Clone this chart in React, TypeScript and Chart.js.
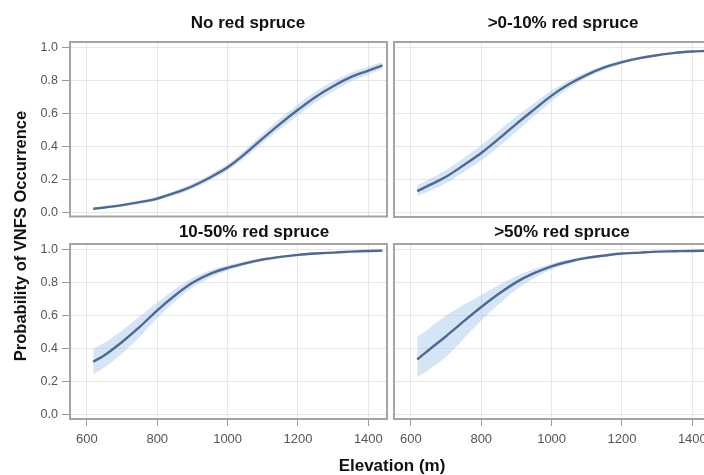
import React, { useEffect, useRef } from "react";
import { Chart, registerables } from "chart.js";

Chart.register(...registerables);

const FONT = "'Liberation Sans', Arial, sans-serif";

const panelTitles = ["No red spruce", ">0-10% red spruce", "10-50% red spruce", ">50% red spruce"];
const xAxisTitle = "Elevation (m)";
const yAxisTitle = "Probability of VNFS Occurrence";

const xTicks = [600, 800, 1000, 1200, 1400];
const yTicks = [0, 0.2, 0.4, 0.6, 0.8, 1.0];

const elevation = [618, 650, 700, 750, 800, 850, 900, 950, 1000, 1050, 1100, 1150, 1200, 1250, 1300, 1350, 1400, 1440];

// No red spruce
const noneFit = [0.02, 0.028, 0.042, 0.06, 0.082, 0.116, 0.157, 0.21, 0.272, 0.355, 0.448, 0.538, 0.622, 0.70, 0.765, 0.82, 0.86, 0.892];
const noneLower = [0.012, 0.020, 0.033, 0.050, 0.070, 0.102, 0.141, 0.192, 0.252, 0.331, 0.420, 0.506, 0.588, 0.667, 0.735, 0.793, 0.836, 0.872];
const noneUpper = [0.028, 0.036, 0.051, 0.070, 0.094, 0.130, 0.173, 0.228, 0.292, 0.379, 0.476, 0.570, 0.656, 0.733, 0.795, 0.847, 0.884, 0.912];

// >0-10% red spruce
const lowFit = [0.13, 0.163, 0.217, 0.287, 0.361, 0.448, 0.538, 0.624, 0.709, 0.779, 0.835, 0.88, 0.912, 0.936, 0.954, 0.968, 0.976, 0.98];
const lowLower = [0.100, 0.128, 0.178, 0.245, 0.315, 0.400, 0.492, 0.585, 0.675, 0.755, 0.817, 0.866, 0.901, 0.928, 0.948, 0.963, 0.972, 0.976];
const lowUpper = [0.165, 0.200, 0.258, 0.330, 0.408, 0.496, 0.584, 0.663, 0.740, 0.802, 0.852, 0.893, 0.922, 0.944, 0.960, 0.973, 0.980, 0.984];

// 10-50% red spruce
const midFit = [0.32, 0.36, 0.44, 0.531, 0.632, 0.722, 0.799, 0.853, 0.889, 0.917, 0.94, 0.956, 0.968, 0.976, 0.982, 0.988, 0.992, 0.994];
const midLower = [0.245, 0.285, 0.370, 0.470, 0.585, 0.685, 0.770, 0.830, 0.872, 0.905, 0.931, 0.949, 0.962, 0.971, 0.978, 0.985, 0.989, 0.991];
const midUpper = [0.400, 0.435, 0.510, 0.595, 0.680, 0.760, 0.828, 0.875, 0.905, 0.929, 0.949, 0.963, 0.974, 0.981, 0.986, 0.991, 0.995, 0.997];

// >50% red spruce
const highFit = [0.334, 0.39, 0.475, 0.565, 0.652, 0.732, 0.803, 0.857, 0.899, 0.928, 0.95, 0.964, 0.976, 0.982, 0.988, 0.99, 0.992, 0.994];
const highLower = [0.225, 0.270, 0.350, 0.460, 0.570, 0.670, 0.758, 0.827, 0.880, 0.915, 0.940, 0.957, 0.970, 0.977, 0.984, 0.987, 0.989, 0.991];
const highUpper = [0.470, 0.520, 0.600, 0.665, 0.725, 0.785, 0.840, 0.883, 0.915, 0.940, 0.959, 0.971, 0.981, 0.986, 0.991, 0.993, 0.995, 0.997];

const series = [
  { fit: noneFit, lower: noneLower, upper: noneUpper },
  { fit: lowFit, lower: lowLower, upper: lowUpper },
  { fit: midFit, lower: midLower, upper: midUpper },
  { fit: highFit, lower: highLower, upper: highUpper },
];

const LINE = "#4d6893";
const BAND = "rgba(165,198,232,0.45)";
const GRID = "#e6e6e6";
const TICKC = "#555555";

// canvas placement for each panel
const layouts = [
  { left: 0, top: 28, width: 400, height: 200, yWidth: 70, xHeight: 11, padTop: 14, padRight: 13, showY: true, showX: false },
  { left: 380, top: 28, width: 340, height: 200, yWidth: 14, xHeight: 11, padTop: 14, padRight: 9, showY: false, showX: false },
  { left: 0, top: 230, width: 400, height: 229, yWidth: 70, xHeight: 40, padTop: 14, padRight: 13, showY: true, showX: true },
  { left: 380, top: 230, width: 340, height: 229, yWidth: 14, xHeight: 40, padTop: 14, padRight: 9, showY: false, showX: true },
];

const titlePos = [
  { cx: 248, cy: 22.5 },
  { cx: 563, cy: 22.5 },
  { cx: 254, cy: 232 },
  { cx: 562, cy: 232 },
];

const boxPlugin = {
  id: "panelBox",
  afterDraw(chart: any) {
    const { ctx, chartArea } = chart;
    ctx.save();
    ctx.strokeStyle = "#a4a4a4";
    ctx.lineWidth = 2;
    ctx.strokeRect(chartArea.left, chartArea.top, chartArea.right - chartArea.left, chartArea.bottom - chartArea.top);
    ctx.restore();
  },
};

function pts(ys: number[]) {
  return elevation.map((x, i) => ({ x, y: ys[i] }));
}

function makeConfig(idx: number): any {
  const s = series[idx];
  const L = layouts[idx];
  return {
    type: "line",
    data: {
      datasets: [
        { data: pts(s.upper), order: 2, borderWidth: 0, pointRadius: 0, fill: "+1", backgroundColor: BAND, borderColor: "rgba(0,0,0,0)", cubicInterpolationMode: "monotone" },
        { data: pts(s.lower), order: 2, borderWidth: 0, pointRadius: 0, fill: false, borderColor: "rgba(0,0,0,0)", cubicInterpolationMode: "monotone" },
        { data: pts(s.fit), order: 0, borderWidth: 2.4, pointRadius: 0, fill: false, borderColor: LINE, cubicInterpolationMode: "monotone" },
      ],
    },
    options: {
      responsive: false,
      animation: false,
      events: [],
      layout: { padding: { top: L.padTop, right: L.padRight, left: 0, bottom: 0 } },
      plugins: { legend: { display: false }, tooltip: { enabled: false }, title: { display: false } },
      scales: {
        x: {
          type: "linear",
          min: 552,
          max: 1453,
          afterBuildTicks: (sc: any) => { sc.ticks = xTicks.map((v) => ({ value: v })); },
          afterFit: (sc: any) => { sc.height = L.xHeight; },
          ticks: { display: L.showX, autoSkip: false, maxRotation: 0, padding: 6, color: TICKC, font: { family: FONT, size: 13 }, callback: (v: any) => String(v) },
          grid: { color: GRID, lineWidth: 1, drawTicks: L.showX, tickLength: 7, tickColor: "#999999", tickWidth: 1 },
          border: { display: false },
        },
        y: {
          type: "linear",
          min: -0.027,
          max: 1.034,
          afterBuildTicks: (sc: any) => { sc.ticks = yTicks.map((v) => ({ value: v })); },
          afterFit: (sc: any) => { sc.width = L.yWidth; },
          ticks: { display: L.showY, autoSkip: false, padding: 4, color: TICKC, font: { family: FONT, size: 12.5 }, callback: (v: any) => Number(v).toFixed(1) },
          grid: { color: GRID, lineWidth: 1, drawTicks: L.showY, tickLength: 8, tickColor: "#999999", tickWidth: 1 },
          border: { display: false },
        },
      },
    },
    plugins: [boxPlugin],
  };
}

export default function App() {
  const refs = [useRef<HTMLCanvasElement>(null), useRef<HTMLCanvasElement>(null), useRef<HTMLCanvasElement>(null), useRef<HTMLCanvasElement>(null)];

  useEffect(() => {
    const charts = refs.map((r, i) => new Chart(r.current as HTMLCanvasElement, makeConfig(i)));
    return () => charts.forEach((c) => c.destroy());
  }, []);

  return (
    <div style={{ position: "fixed", left: 0, top: 0, width: 704, height: 475, overflow: "hidden", background: "#ffffff", fontFamily: FONT }}>
      {layouts.map((L, i) => (
        <canvas
          key={"c" + i}
          ref={refs[i]}
          width={L.width}
          height={L.height}
          style={{ position: "absolute", left: L.left, top: L.top, width: L.width, height: L.height }}
        />
      ))}
      {titlePos.map((p, i) => (
        <div
          key={"t" + i}
          style={{ position: "absolute", left: p.cx - 150, top: p.cy - 10, width: 300, height: 20, lineHeight: "20px", textAlign: "center", fontWeight: "bold", fontSize: 17, color: "#111" }}
        >
          {panelTitles[i]}
        </div>
      ))}
      <div style={{ position: "absolute", left: 392 - 150, top: 456, width: 300, height: 20, lineHeight: "20px", textAlign: "center", fontWeight: "bold", fontSize: 17, color: "#111" }}>
        {xAxisTitle}
      </div>
      <div style={{ position: "absolute", left: 19.5 - 160, top: 226, width: 320, height: 20, lineHeight: "20px", textAlign: "center", fontWeight: "bold", fontSize: 16.5, color: "#111", transform: "rotate(-90deg)" }}>
        {yAxisTitle}
      </div>
    </div>
  );
}
